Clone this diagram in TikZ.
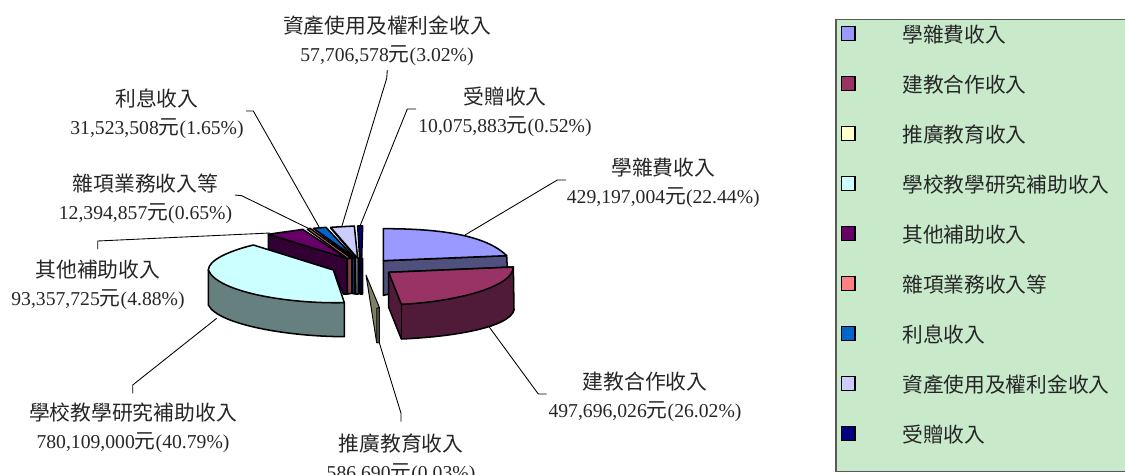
\documentclass[tikz,border=0pt]{standalone}
\usepackage{fontspec}
\setmainfont{Liberation Serif}
\newfontfamily\cjk{Noto Sans CJK TC}
\newcommand{\cj}[1]{{\cjk\fontsize{15.6}{21}\selectfont #1}}
\definecolor{sa}{HTML}{9999FF}\definecolor{sad}{HTML}{50507F}
\definecolor{sb}{HTML}{993366}\definecolor{sbd}{HTML}{4F1B38}
\definecolor{sc}{HTML}{FFFFCC}\definecolor{scd}{HTML}{808066}
\definecolor{sd}{HTML}{CCFFFF}\definecolor{sdd}{HTML}{668080}
\definecolor{se}{HTML}{660066}\definecolor{sed}{HTML}{330033}
\definecolor{sf}{HTML}{FF8080}\definecolor{sfd}{HTML}{804040}
\definecolor{sg}{HTML}{0066CC}\definecolor{sgd}{HTML}{003366}
\definecolor{sh}{HTML}{CCCCFF}\definecolor{shd}{HTML}{666680}
\definecolor{si}{HTML}{000080}\definecolor{sid}{HTML}{000040}
\definecolor{legbg}{HTML}{C8EACB}\definecolor{txt}{HTML}{262626}
\tikzset{
  pie/.style={draw=black,line width=1.15pt,line join=round},
  leader/.style={draw=black,line width=0.65pt},
  lab/.style={align=center,font=\fontsize{14.75}{21}\selectfont,text=txt,inner sep=0pt},
  legtxt/.style={anchor=west,font=\cjk\fontsize{15.55}{18}\selectfont,text=txt,inner sep=0pt},
  swatch/.style={draw=black,line width=0.95pt,minimum width=10.3pt,minimum height=10.3pt,inner sep=0pt}
}
\begin{document}
\begin{tikzpicture}[x=0.75pt,y=-0.75pt]
\useasboundingbox (0,0) rectangle (1125,475);
\clip (0,0) rectangle (1125,475);
% labels
\node[lab] (la) at (663.3,182.5) {\cj{學雜費收入}\\429,197,004\cj{元}(22.44\%)};
\node[lab] (lb) at (645,397) {\cj{建教合作收入}\\497,696,026\cj{元}(26.02\%)};
\node[lab] (lc) at (401,458.5) {\cj{推廣教育收入}\\586,690\cj{元}(0.03\%)};
\node[lab] (ld) at (133,428) {\cj{學校教學研究補助收入}\\780,109,000\cj{元}(40.79\%)};
\node[lab] (le) at (98,284.5) {\cj{其他補助收入}\\93,357,725\cj{元}(4.88\%)};
\node[lab] (lf) at (145.5,198.5) {\cj{雜項業務收入等}\\12,394,857\cj{元}(0.65\%)};
\node[lab] (lg) at (157,114) {\cj{利息收入}\\31,523,508\cj{元}(1.65\%)};
\node[lab] (lh) at (387,40.5) {\cj{資產使用及權利金收入}\\57,706,578\cj{元}(3.02\%)};
\node[lab] (li) at (505,112) {\cj{受贈收入}\\10,075,883\cj{元}(0.52\%)};
% leaders
\coordinate (a0) at (566,180); \coordinate (a1) at (557.3,180); \coordinate (a2) at (465,235);
\coordinate (b0) at (546.7,394); \coordinate (b1) at (538.3,394); \coordinate (b2) at (489,326.7);
\coordinate (c0) at (401,421.7); \coordinate (c1) at (401,413.3); \coordinate (c2) at (379.3,342.7);
\coordinate (d0) at (132.7,393.3); \coordinate (d1) at (132.7,385); \coordinate (d2) at (216.7,318.3);
\coordinate (e0) at (97.7,249); \coordinate (e1) at (97.7,241); \coordinate (e2) at (270,233);
\coordinate (f0) at (235,195); \coordinate (f1) at (241.7,195.7); \coordinate (f2) at (308.3,228.3);
\coordinate (g0) at (246,111); \coordinate (g1) at (253.3,111); \coordinate (g2) at (319.3,227.3);
\coordinate (h0) at (387.3,70); \coordinate (h1) at (386.7,78.3); \coordinate (h2) at (341.7,226.7);
\coordinate (i0) at (416,109); \coordinate (i1) at (407.3,109); \coordinate (i2) at (360,226);
\foreach \k in {a,b,c,d,e,f,g,h,i} \draw[leader] (\k0) -- (\k1) -- (\k2);
% pie, in coordinates of a 3x enlargement
\begin{scope}[shift={(190,190)},x=0.25pt,y=-0.25pt]
 % slice a
 \path[pie,fill=sad] (580,212) -- (950,197) -- (952,240) -- (580,316) -- cycle;
 \path[pie,fill=sa] (580,212) -- (580,116) .. controls (720,116) and (880,128) .. (950,197) -- cycle;
 % slice i
 \path[pie,fill=sid] (508,205) -- (518,205) -- (518,312) -- (510,312) -- cycle;
 \path[pie,fill=si] (503,108) -- (518,108) -- (515,205) -- (509,205) -- cycle;
 % slice h
 \path[pie,fill=shd] (422,114) -- (495,200) -- (497,312) -- (505,312) -- (505,205) -- (495,190) -- cycle;
 \path[pie,fill=sh] (422,112) -- (493,108) -- (503,205) -- cycle;
 % slice g
 \path[pie,fill=sgd] (372,116) -- (486,205) -- (486,310) -- (495,312) -- (495,205) -- cycle;
 \path[pie,fill=sg] (370,115) -- (408,112) -- (488,198) -- cycle;
 % slice f
 \path[pie,fill=sfd] (472,205) -- (486,205) -- (486,310) -- (472,312) -- cycle;
 \path[pie,fill=sf] (352,118) -- (360,115) -- (484,205) -- (472,205) -- cycle;
 % slice e
 \path[pie,fill=sed] (235,133) -- (470,205) -- (472,312) -- (460,312) -- (430,240) -- (235,180) -- cycle;
 \path[pie,fill=se] (470,205) -- (338,118) .. controls (300,124) and (265,128) .. (235,133) -- cycle;
 % slice d
 \path[pie,fill=sdd] (55,240) -- (55,345) .. controls (85,405) and (300,440) .. (463,440) -- (463,338) -- cycle;
 \path[pie,fill=sd] (463,338) -- (430,240) -- (190,165) .. controls (120,182) and (55,210) .. (55,240) .. controls (80,305) and (290,342) .. (463,338) -- cycle;
 % slice c
 \path[pie,line width=0.7pt,fill=scd] (528,255) -- (568,352) -- (568,458) -- (560,458) -- cycle;
 \path[draw=black,line width=0.6pt,fill=scd!70!black] (560,355) -- (568,352) -- (568,458) -- (560,458) -- cycle;
 % slice b
 \path[pie,fill=sbd] (596,247) -- (596,352) -- (634,447) .. controls (800,440) and (960,410) .. (972,360) -- (970,231) -- cycle;
 \path[pie,fill=sb] (634,343) -- (596,247) -- (970,231) .. controls (970,290) and (800,335) .. (634,343) -- cycle;
 \draw[pie] (634,343) -- (634,447);
\end{scope}
% legend
\node[draw=black!65,line width=0.9pt,fill=legbg,minimum width=217.5pt,minimum height=339pt,anchor=north west,inner sep=0pt] (legend) at (835.3,19) {};
\foreach \n/\c/\t [count=\i from 0] in {
 la/sa/學雜費收入, lb/sb/建教合作收入, lc/sc/推廣教育收入, ld/sd/學校教學研究補助收入,
 le/se/其他補助收入, lf/sf/雜項業務收入等, lg/sg/利息收入, lh/sh/資產使用及權利金收入, li/si/受贈收入} {
  \node[swatch,fill=\c] (sw\n) at (848,33.3+50*\i) {};
  \node[legtxt] (tx\n) at (902,35+50*\i) {\t};
}
\end{tikzpicture}
\end{document}
